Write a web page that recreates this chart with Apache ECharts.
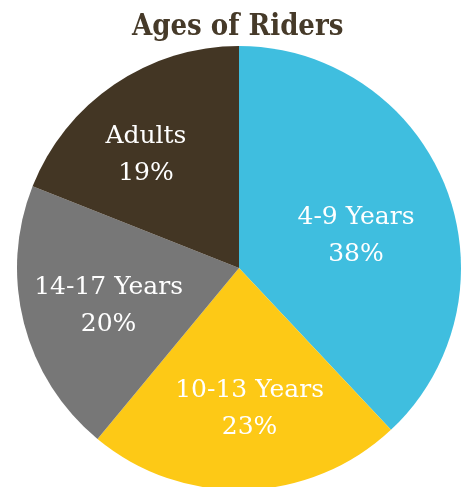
<!DOCTYPE html>
<html>

<head>
  <meta charset="utf-8">
  <title>Ages of Riders</title>
  <script src="https://cdn.jsdelivr.net/npm/echarts@6/dist/echarts.min.js"></script>
</head>

<body style="margin:0">
  <div id="main" style="width: 464px;height:487px;"></div>
  <script type="text/javascript">
    // data
    var categories = ['4-9 Years', '10-13 Years', '14-17 Years', 'Adults'];
    var shares = [38, 23, 20, 19];

    // styling
    var sliceColors = ['#3fbedf', '#fdc916', '#777777', '#433624'];
    var labelShift = [[11, 10], [7, 27], [-20, 10], [-29, -19]];

    var myChart = echarts.init(document.getElementById('main'));

    var pieData = [];
    for (var i = 0; i < categories.length; i++) {
      pieData.push({
        name: categories[i],
        value: shares[i],
        itemStyle: { color: sliceColors[i] },
        label: { offset: labelShift[i] }
      });
    }

    var option = {
      animation: false,
      title: {
        text: 'Ages of Riders',
        left: 127,
        top: 8,
        textStyle: {
          fontFamily: '"DejaVu Serif Condensed", "DejaVu Serif", serif',
          fontWeight: 'bold',
          fontSize: 29,
          color: '#463a29'
        }
      },
      series: [{
        type: 'pie',
        center: [239, 268],
        radius: 222,
        startAngle: 90,
        clockwise: true,
        silent: true,
        itemStyle: { borderWidth: 0 },
        label: {
          show: true,
          position: 'inside',
          formatter: '{b}\n{c}%',
          color: '#ffffff',
          fontFamily: '"DejaVu Serif", serif',
          fontSize: 25,
          lineHeight: 37,
          align: 'center'
        },
        labelLine: { show: false },
        data: pieData
      }]
    };

    myChart.setOption(option);
  </script>
</body>

</html>
